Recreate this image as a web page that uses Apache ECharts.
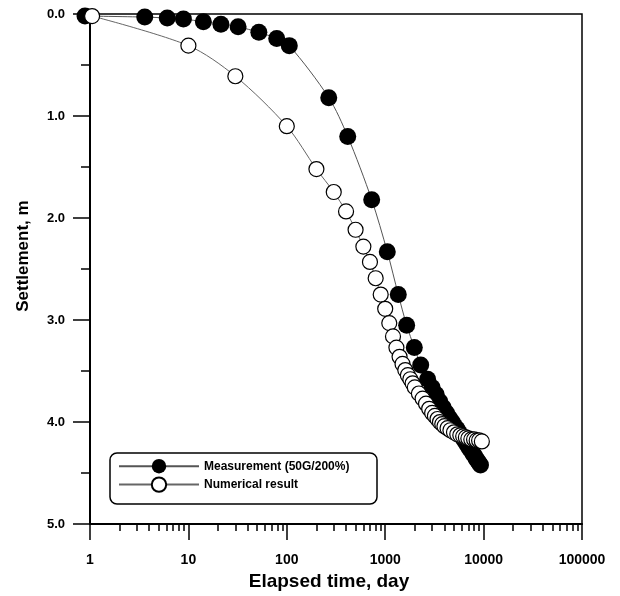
<!DOCTYPE html>
<html>
<head>
<meta charset="utf-8">
<script src="https://cdn.jsdelivr.net/npm/echarts@6/dist/echarts.min.js"></script>
<style>
html,body{margin:0;padding:0;background:#fff;}
#chart{width:620px;height:596px;}
</style>
</head>
<body>
<div id="chart"></div>
<script>
// ---- data ----
const measDays = [0.89, 3.6, 6.1, 8.9, 14.2, 21.4, 32, 52, 79, 106, 267, 416, 729, 1050, 1358, 1652, 1976, 2295, 2700, 3000, 3300, 3600, 3900, 4200, 4500, 4800, 5100, 5400, 5700, 6000, 6300, 6600, 6900, 7200, 7500, 7800, 8100, 8400, 8700, 9000, 9300];
const measSettle = [0.02, 0.03, 0.04, 0.05, 0.075, 0.1, 0.125, 0.18, 0.24, 0.31, 0.82, 1.2, 1.82, 2.33, 2.75, 3.05, 3.27, 3.44, 3.58, 3.66, 3.73, 3.80, 3.86, 3.91, 3.96, 4.00, 4.04, 4.07, 4.11, 4.14, 4.17, 4.20, 4.23, 4.26, 4.28, 4.31, 4.33, 4.36, 4.38, 4.40, 4.42];
const numDays = [1.05, 10, 30, 100, 200, 300, 400, 500, 600, 700, 800, 900, 1000, 1100, 1200, 1300, 1400, 1500, 1600, 1700, 1800, 1900, 2000, 2200, 2400, 2600, 2800, 3000, 3200, 3400, 3600, 3800, 4000, 4300, 4600, 5000, 5400, 5800, 6200, 6600, 7000, 7500, 8000, 8500, 9000, 9600];
const numSettle = [0.02, 0.31, 0.61, 1.10, 1.52, 1.745, 1.935, 2.115, 2.28, 2.43, 2.59, 2.75, 2.89, 3.03, 3.16, 3.27, 3.36, 3.43, 3.49, 3.54, 3.58, 3.62, 3.66, 3.72, 3.77, 3.82, 3.87, 3.91, 3.94, 3.97, 4.00, 4.02, 4.04, 4.06, 4.08, 4.10, 4.12, 4.13, 4.14, 4.15, 4.16, 4.17, 4.17, 4.18, 4.18, 4.19];
const xMajorTicks = [1, 10, 100, 1000, 10000, 100000];
const xMinorMultipliers = [2, 3, 4, 5, 6, 7, 8, 9];
const yTickLabels = ['0.0', '1.0', '2.0', '3.0', '4.0', '5.0'];
const seriesNames = ['Measurement (50G/200%)', 'Numerical result'];
const xTitle = 'Elapsed time, day';
const yTitle = 'Settlement, m';

const xMinorTicks = [];
xMajorTicks.slice(0, -1).forEach(d => xMinorMultipliers.forEach(m => xMinorTicks.push(d * m)));

const FONT = 'Liberation Sans, Arial, sans-serif';
const chart = echarts.init(document.getElementById('chart'), null, {renderer: 'canvas'});
const zip = (a, b) => a.map((v, i) => [v, b[i]]);

chart.setOption({
  animation: false,
  backgroundColor: '#fff',
  grid: {left: 90, right: 38, top: 14, bottom: 71, show: true, borderColor: '#000', borderWidth: 1.5, backgroundColor: 'transparent'},
  xAxis: [{
    type: 'log', logBase: 10, min: 1, max: 100000, position: 'bottom',
    name: xTitle, nameLocation: 'middle', nameGap: 46,
    nameTextStyle: {fontFamily: FONT, fontWeight: 'bold', fontSize: 19, color: '#000', padding: [0, 14, 0, 0]},
    axisLine: {show: true, onZero: false, lineStyle: {color: '#000', width: 2}},
    axisTick: {show: true, length: 16, customValues: xMajorTicks, lineStyle: {color: '#000', width: 1.5}},
    axisLabel: {show: true, margin: 29, fontFamily: FONT, fontWeight: 'bold', fontSize: 14, color: '#000',
      formatter: v => String(Math.round(v))},
    splitLine: {show: false}
  }, {
    type: 'log', logBase: 10, min: 1, max: 100000, position: 'bottom',
    axisLine: {show: false, onZero: false},
    axisTick: {show: true, length: 7, customValues: xMinorTicks, lineStyle: {color: '#000', width: 1.5}},
    axisLabel: {show: false},
    splitLine: {show: false}
  }],
  yAxis: {
    type: 'value', inverse: true, min: 0, max: 5, interval: 1,
    name: yTitle, nameLocation: 'middle', nameGap: 58, nameRotate: 90,
    nameTextStyle: {fontFamily: FONT, fontWeight: 'bold', fontSize: 17, color: '#000', padding: [0, 0, 0, 26]},
    axisLine: {show: true, onZero: false, lineStyle: {color: '#000', width: 2}},
    axisTick: {show: true, length: 17, lineStyle: {color: '#000', width: 1.5}},
    minorTick: {show: true, splitNumber: 2, length: 9, lineStyle: {color: '#000', width: 1.5}},
    axisLabel: {margin: 25, fontFamily: FONT, fontWeight: 'bold', fontSize: 13, color: '#000',
      formatter: v => yTickLabels[Math.round(v)]},
    splitLine: {show: false}
  },
  legend: {
    orient: 'vertical', left: 110, top: 453, padding: [6, 8, 6, 8],
    itemWidth: 80, itemHeight: 18, itemGap: 3,
    textStyle: {fontFamily: FONT, fontWeight: 'bold', fontSize: 12, color: '#000'},
    data: seriesNames
  },
  graphic: [{
    type: 'rect', z: 0, silent: true,
    shape: {x: 110, y: 453, width: 267, height: 51, r: 7},
    style: {fill: '#fff', stroke: '#000', lineWidth: 1.5}
  }],
  series: [{
    name: seriesNames[0], type: 'line', xAxisIndex: 0, clip: false, smooth: 0.3,
    data: zip(measDays, measSettle),
    symbol: 'circle', symbolSize: 17,
    lineStyle: {color: '#555', width: 1},
    itemStyle: {color: '#000', borderWidth: 0}
  }, {
    name: seriesNames[1], type: 'line', xAxisIndex: 0, clip: false, smooth: 0.3,
    data: zip(numDays, numSettle),
    symbol: 'circle', symbolSize: 15,
    lineStyle: {color: '#666', width: 1},
    itemStyle: {color: '#fff', borderColor: '#000', borderWidth: 1.2}
  }]
});
</script>
</body>
</html>
